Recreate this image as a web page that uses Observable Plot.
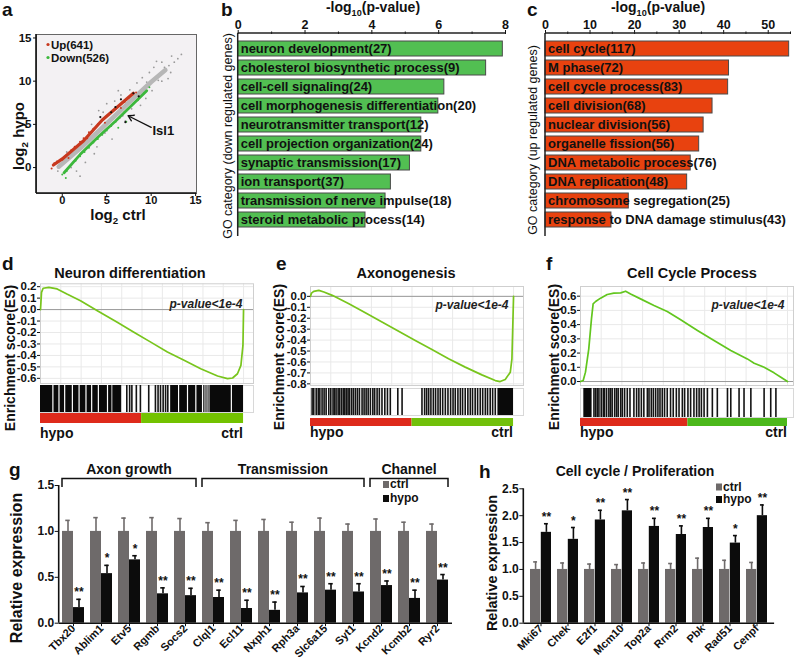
<!DOCTYPE html>
<html>
<head>
<meta charset="utf-8">
<script src="https://cdn.jsdelivr.net/npm/d3@7"></script>
<script src="https://cdn.jsdelivr.net/npm/@observablehq/plot@0.6"></script>
<style>
html,body{margin:0;padding:0;background:#fff;}
#fig{position:relative;width:798px;height:660px;overflow:hidden;background:#fff;}
</style>
</head>
<body>
<div id="fig"></div>
<script>
// ======================= DATA =======================
// (a) scatter: log2 ctrl vs log2 hypo
const grayBand = [[-0.4,0.1],[2,2.2],[5,5.1],[8,8.0],[10,9.9],[11.6,11.3]];
const upBand = [[-1.0,0.3],[0,1.0],[2.4,3.1],[4.5,5.5],[6.2,7.0],[8.0,8.6]];
const downBand = [[0.2,-0.6],[2,1.5],[4,3.5],[6,5.4],[8,7.4],[9.5,8.9]];
const grayPts = [[9.0,10.4],[10.3,11.6],[11.2,12.2],[12.6,12.2],[13.4,13.1],[7.6,9.0],[8.4,9.8],[6.6,8.4],[5.9,7.7],[4.6,6.4],[3.3,5.0],[10.1,8.9],[11.2,10.0],[12.2,11.0],[8.8,7.2],[7.1,5.4],[9.4,8.0],[11.9,10.3],[2.6,0.6],[1.6,-0.4],[5.6,3.3],[4.1,6.6],[6.3,8.9],[10.6,12.3],[12.3,12.9],[8.1,6.1],[3.6,1.6],[9.8,11.0],[11.5,11.6],[12.0,11.8],[10.8,10.1],[9.5,9.9],[7.8,6.8],[6.8,6.0],[4.8,4.0],[0.5,1.8],[-0.5,-0.4],[1.0,0.0],[13.0,12.6],[2.0,-1.0],[5.0,7.4],[3.9,2.4]];
const upPts = [[-1.2,-0.1],[-0.6,0.7],[0.4,1.3],[1.4,2.4],[2.4,3.4],[3.5,4.5],[4.5,5.5],[5.5,6.4],[6.5,7.2],[7.5,8.1],[8.3,8.7],[0,0.9],[1,2.0],[2,3.0],[3,4.1],[4,5.0],[5,6.0],[6,6.8],[7,7.6],[-0.9,0.5],[0.7,1.1],[2.8,3.4],[4.8,5.2],[6.6,6.9]];
const downPts = [[0,-0.8],[0.5,-0.4],[1,0.3],[1.5,0.8],[2,1.3],[2.5,1.8],[3,2.3],[3.5,2.9],[4,3.3],[4.5,3.8],[5,4.3],[5.5,4.8],[6,5.3],[6.5,5.8],[7,6.4],[7.5,6.9],[8,7.4],[8.5,7.8],[9.2,8.6],[9.8,9.3],[0.4,-1.2],[6.3,4.6],[7.2,5.3]];
const blackPts = [[5.98,7.0],[7.1,5.25],[8.6,8.24],[4.28,5.84],[5.5,6.4],[8.0,8.6],[6.6,7.9]];
const isl1 = {gene:"Isl1", ctrl:7.4, hypo:6.0};
const legendA = ["Up(641)","Down(526)"];

// (b) GO down-regulated
const downTerms = ["neuron development(27)","cholesterol biosynthetic process(9)","cell-cell signaling(24)","cell morphogenesis differentiation(20)","neurotransmitter transport(12)","cell projection organization(24)","synaptic transmission(17)","ion transport(37)","transmission of nerve impulse(18)","steroid metabolic process(14)"];
const downLogP = [7.92,7.42,6.17,5.99,5.48,5.48,5.14,4.57,4.41,3.81];
// (c) GO up-regulated
const upTerms = ["cell cycle(117)","M phase(72)","cell cycle process(83)","cell division(68)","nuclear division(56)","organelle fission(56)","DNA metabolic process(76)","DNA replication(48)","chromosome segregation(25)","response to DNA damage stimulus(43)"];
const upLogP = [54.7,41.2,41.0,37.5,35.5,34.5,32.6,31.8,18.7,14.8];

// (d) GSEA Neuron differentiation: [rank fraction, ES]
const dCurve = [[0,0],[0.005,0.15],[0.013,0.186],[0.041,0.194],[0.082,0.18],[0.13,0.136],[0.197,0.078],[0.28,-0.01],[0.378,-0.11],[0.46,-0.197],[0.543,-0.284],[0.625,-0.371],[0.707,-0.443],[0.789,-0.516],[0.872,-0.58],[0.921,-0.603],[0.946,-0.597],[0.97,-0.56],[0.987,-0.487],[0.997,-0.313],[1,0]];
const dBlocks = [[0,0.40],[0.641,1.0]];
const dHits = [0.425,0.439,0.45,0.472,0.492,0.533,0.566,0.579,0.591,0.604,0.616,0.627];
const dGray = [0.351,0.808,0.815,0.822,0.83];
const dGaps = [0.061,0.091,0.119,0.157,0.19,0.224,0.252,0.285,0.33,0.68,0.724,0.765,0.798,0.94];
const dSplit = 0.498;
// (e) GSEA Axonogenesis
const eCurve = [[0,0],[0.005,0.03],[0.016,0.046],[0.041,0.055],[0.066,0.04],[0.107,0.009],[0.189,-0.067],[0.27,-0.15],[0.352,-0.235],[0.434,-0.32],[0.516,-0.403],[0.598,-0.485],[0.68,-0.571],[0.762,-0.647],[0.844,-0.718],[0.91,-0.77],[0.934,-0.779],[0.959,-0.76],[0.984,-0.693],[0.992,-0.571],[0.995,-0.357],[1,0]];
const eBlocks = [[0.923,1.0]];
const eHits = [0.008,0.016,0.028,0.038,0.046,0.057,0.067,0.077,0.090,0.100,0.111,0.118,0.126,0.136,0.143,0.152,0.161,0.169,0.177,0.185,0.192,0.202,0.211,0.221,0.231,0.241,0.254,0.264,0.274,0.284,0.295,0.307,0.316,0.328,0.339,0.352,0.366,0.379,0.393,0.430,0.451,0.549,0.562,0.572,0.582,0.593,0.605,0.616,0.628,0.639,0.651,0.664,0.677,0.690,0.702,0.713,0.726,0.738,0.749,0.762,0.775,0.787,0.798,0.811,0.823,0.836,0.848,0.861,0.872,0.885,0.897,0.910];
const eSplit = 0.5;
// (f) GSEA Cell Cycle Process
const fCurve = [[0,0],[0.013,0.007],[0.024,0.066],[0.04,0.23],[0.053,0.44],[0.061,0.546],[0.073,0.5625],[0.097,0.586],[0.129,0.612],[0.161,0.621],[0.194,0.623],[0.218,0.635],[0.242,0.616],[0.29,0.581],[0.355,0.534],[0.419,0.492],[0.484,0.434],[0.565,0.359],[0.645,0.288],[0.726,0.218],[0.806,0.159],[0.839,0.129],[0.887,0.1],[0.935,0.061],[0.968,0.03],[1,0]];
const fBlocks = [[0.016,0.056]];
const fHits = [0.065,0.073,0.081,0.089,0.100,0.110,0.116,0.126,0.137,0.145,0.153,0.165,0.174,0.182,0.194,0.202,0.213,0.226,0.239,0.258,0.271,0.282,0.294,0.306,0.323,0.331,0.342,0.352,0.363,0.374,0.384,0.395,0.406,0.419,0.435,0.448,0.463,0.476,0.492,0.503,0.519,0.532,0.548,0.561,0.573,0.584,0.597,0.613,0.637,0.661,0.710,0.726,0.766,0.790,0.823,0.887,0.919,0.944];
const fSplit = 0.519;

// (g) qPCR neural genes
const gGenes = ["Tbx20","Ablim1","Etv5","Rgmb","Socs2","Clql1","Ecl11","Nxph1","Rph3a","Slc6a15","Syt1","Kcnd2","Kcmb2","Ryr2"];
const gCtrl = [1,1,1,1,1,1,1,1,1,1,1,1,1,1];
const gCtrlErr = [0.12,0.15,0.145,0.15,0.14,0.095,0.12,0.13,0.10,0.145,0.08,0.135,0.10,0.08];
const gHypo = [0.17,0.54,0.69,0.32,0.30,0.28,0.16,0.14,0.33,0.36,0.34,0.41,0.27,0.47];
const gHypoErr = [0.09,0.09,0.045,0.065,0.08,0.08,0.09,0.09,0.07,0.07,0.09,0.05,0.09,0.06];
const gSig = ["**","*","*","**","**","**","**","**","**","**","**","**","**","**"];
const gGroups = [{name:"Axon growth",from:"Tbx20",to:"Socs2"},{name:"Transmission",from:"Clql1",to:"Syt1"},{name:"Channel",from:"Kcnd2",to:"Ryr2"}];
// (h) qPCR cell cycle genes
const hGenes = ["Mki67","Chek","E2f1","Mcm10","Top2a","Rrm2","Pbk","Rad51","Cenpf"];
const hCtrl = [1,1,1,1,1,1,1,1,1];
const hCtrlErr = [0.14,0.12,0.10,0.09,0.12,0.11,0.21,0.17,0.13];
const hHypo = [1.69,1.56,1.92,2.09,1.80,1.65,1.78,1.49,2.0];
const hHypoErr = [0.16,0.22,0.18,0.21,0.15,0.16,0.17,0.14,0.2];
const hSig = ["**","*","**","**","**","**","**","*","**"];
const seriesNames = ["ctrl","hypo"];

// ======================= HELPERS =======================
const FONT = "'Liberation Sans', Arial, Helvetica, sans-serif";
const fig = document.getElementById("fig");
function place(el, left, top) {
  el.style.position = "absolute"; el.style.left = left + "px"; el.style.top = top + "px";
  fig.appendChild(el); return el;
}
function st(extra) {
  return Object.assign({fontFamily: FONT, fontSize: "12px", fontWeight: "bold", color: "#111",
    background: "transparent", overflow: "visible"}, extra || {});
}
function edge(side, stroke = "#111", sw = 1.5) {
  return (index, scales, values, d) => {
    const L = d.marginLeft, R = d.width - d.marginRight, T = d.marginTop, B = d.height - d.marginBottom;
    const l = d3.create("svg:line").attr("stroke", stroke).attr("stroke-width", sw);
    if (side === "left") l.attr("x1", L).attr("x2", L).attr("y1", T).attr("y2", B);
    if (side === "bottom") l.attr("x1", L).attr("x2", R).attr("y1", B).attr("y2", B);
    if (side === "top") l.attr("x1", L).attr("x2", R).attr("y1", T).attr("y2", T);
    return l.node();
  };
}
const px = d => d[0], py = d => d[1];

// ======================= (a) =======================
const aChart = Plot.plot({
  width: 215, height: 200, marginLeft: 36, marginRight: 19, marginTop: 9, marginBottom: 32,
  style: st(),
  x: {domain: [-2.9, 15.1], label: null},
  y: {domain: [-3, 15.4], label: null},
  marks: [
    Plot.frame({fill: "#f3f1f3", stroke: "#666"}),
    Plot.dot(grayPts, {x: px, y: py, r: 0.9, fill: "#9a9a9a"}),
    Plot.line(grayBand, {x: px, y: py, stroke: "#b7b7b7", strokeWidth: 4.5, strokeLinecap: "round"}),
    Plot.line(upBand, {x: px, y: py, stroke: "#c8391f", strokeWidth: 3.2, strokeLinecap: "round"}),
    Plot.line(downBand, {x: px, y: py, stroke: "#3cb83c", strokeWidth: 2.8, strokeLinecap: "round"}),
    Plot.dot(upPts, {x: px, y: py, r: 1, fill: "#c8391f"}),
    Plot.dot(downPts, {x: px, y: py, r: 1, fill: "#3cb83c"}),
    Plot.dot(blackPts, {x: px, y: py, r: 1.1, fill: "#111"}),
    Plot.arrow([isl1], {x1: d => d.ctrl + 2.6, y1: d => d.hypo - 1.35, x2: "ctrl", y2: "hypo", headLength: 7, strokeWidth: 1.3, stroke: "#111"}),
    Plot.text([isl1], {x: d => d.ctrl + 2.75, y: d => d.hypo - 1.75, text: "gene", textAnchor: "start", fontSize: 13, fill: "#111"}),
    Plot.axisX({ticks: [0, 5, 10, 15], tickSize: 3, tickPadding: 0, fontSize: 11, label: null}),
    Plot.axisY({ticks: [0, 5, 10, 15], tickSize: 3, tickPadding: 2, fontSize: 11.5, label: null}),
    edge("left", "#111", 1.6), edge("bottom", "#111", 1.6)
  ]
});
place(aChart, 0, 25);

// ======================= (b), (c) =======================
function goPanel(terms, vals, {width, ml, mr, xmax, major, minor, fill}) {
  const data = terms.map((t, i) => ({term: t, p: vals[i]}));
  return Plot.plot({
    width, height: 240, marginLeft: ml, marginRight: mr, marginTop: 33, marginBottom: 4,
    style: st(),
    x: {domain: [0, xmax], label: null},
    y: {domain: terms, axis: null, paddingInner: 0.2, paddingOuter: 0.325},
    marks: [
      Plot.barX(data, {x: "p", y: "term", fill, stroke: "#4a4a4a", strokeWidth: 1}),
      Plot.text(data, {x: 0, y: "term", text: "term", textAnchor: "start", dx: 2.5, fontSize: 13, fill: "#111"}),
      Plot.axisX({anchor: "top", ticks: major, tickSize: 4, tickPadding: 1, fontSize: 12.5, label: null}),
      Plot.axisX({anchor: "top", ticks: minor, tickSize: 2.5, tickFormat: () => "", label: null}),
      edge("top", "#222", 1.5), edge("left", "#222", 1.5)
    ]
  });
}
place(goPanel(downTerms, downLogP, {width: 300, ml: 22.7, mr: 10, xmax: 8, major: [0, 2, 4, 6, 8], minor: [1, 3, 5, 7], fill: "#52bf52"}), 215, 0);
place(goPanel(upTerms, upLogP, {width: 283, ml: 30, mr: 8, xmax: 55, major: [0, 10, 20, 30, 40, 50], minor: [5, 15, 25, 35, 45, 55], fill: "#e8420f"}), 515, 0);

// ======================= (d), (e), (f) GSEA =======================
const xgrid = [0.1, 0.2, 0.3, 0.4, 0.5, 0.6, 0.7, 0.8, 0.9, 1.0];
function gsea(c) {
  const X = {domain: [0, c.xmax], axis: null};
  const es = Plot.plot({
    width: c.width, height: c.esH, marginLeft: c.ml, marginRight: c.mr, marginTop: c.mt, marginBottom: c.mb,
    style: st(), x: X, y: {domain: c.ydom, label: null},
    marks: [
      Plot.gridX(xgrid, {stroke: "#e9e9e9", strokeOpacity: 1}),
      Plot.gridY(c.yticks, {stroke: "#e9e9e9", strokeOpacity: 1}),
      Plot.ruleY([0], {stroke: "#9a9a9a"}),
      Plot.frame({stroke: "#cfcfcf"}),
      Plot.line(c.curve, {x: px, y: py, stroke: c.lineColor, strokeWidth: 1.7}),
      Plot.axisY({ticks: c.yticks, tickFormat: d => d.toFixed(1), tickSize: 3, tickPadding: 1, fontSize: 11.5, label: null}),
      Plot.text(["p-value<1e-4"], {frameAnchor: "top-right", textAnchor: "end", lineAnchor: "bottom", dx: c.pdx, dy: c.pdy, fontStyle: "italic", fontSize: 12, fill: "#222"})
    ]
  });
  place(es, c.left, c.esTop);
  const hits = Plot.plot({
    width: c.width, height: c.hitsH, marginLeft: c.ml, marginRight: c.mr, marginTop: 0, marginBottom: 0,
    style: st(), x: X,
    marks: [
      Plot.frame({stroke: "#d8d8d8"}),
      Plot.rect(c.blocks, {x1: px, x2: py, fill: "#0a0a0a"}),
      Plot.ruleX(c.hits, {stroke: "#141414", strokeWidth: 1.6}),
      Plot.ruleX(c.grays, {stroke: "#8a8a8a", strokeWidth: 1.6}),
      Plot.ruleX(c.gaps, {stroke: "#ffffff", strokeWidth: 1.2})
    ]
  });
  place(hits, c.left, c.hitsTop);
  const bar = Plot.plot({
    width: c.width, height: c.barH, marginLeft: c.ml, marginRight: c.mr, marginTop: 0, marginBottom: 0,
    style: st(), x: X,
    marks: [
      Plot.rect([{from: 0, to: c.split}], {x1: "from", x2: "to", fill: "#de2a1b"}),
      Plot.rect([{from: c.split, to: 1}], {x1: "from", x2: "to", fill: c.green})
    ]
  });
  place(bar, c.left, c.barTop);
}
gsea({left: 0, width: 265, ml: 40, mr: 12, esTop: 270, esH: 118, mt: 13.3, mb: 5, xmax: 1.049,
  ydom: [-0.645, 0.225], yticks: [0.2, 0.1, 0, -0.1, -0.2, -0.3, -0.4, -0.5, -0.6], curve: dCurve, lineColor: "#78c51c",
  pdx: -11, pdy: 23.7, blocks: dBlocks, hits: dHits, grays: dGray, gaps: dGaps,
  hitsTop: 385, hitsH: 27, barTop: 413, barH: 10, split: dSplit, green: "#73c200"});
gsea({left: 265, width: 265, ml: 45, mr: 7, esTop: 270, esH: 120, mt: 16, mb: 5, xmax: 1.049,
  ydom: [-0.815, 0.09], yticks: [0, -0.1, -0.2, -0.3, -0.4, -0.5, -0.6, -0.7, -0.8], curve: eCurve, lineColor: "#78c51c",
  pdx: -15, pdy: 22, blocks: eBlocks, hits: eHits, grays: [], gaps: [],
  hitsTop: 388, hitsH: 27, barTop: 418, barH: 8, split: eSplit, green: "#71c00a"});
gsea({left: 530, width: 268, ml: 50, mr: 5, esTop: 270, esH: 120, mt: 16, mb: 5, xmax: 1.029,
  ydom: [-0.028, 0.668], yticks: [0, 0.1, 0.2, 0.3, 0.4, 0.5, 0.6], curve: fCurve, lineColor: "#62c61e",
  pdx: -9, pdy: 22, blocks: fBlocks, hits: fHits, grays: [], gaps: [],
  hitsTop: 388, hitsH: 29, barTop: 418, barH: 8, split: fSplit, green: "#4cb81b"});

// ======================= (g), (h) bar charts =======================
const CTRL = "#6e6a6a", HYPO = "#0c0c0c";
function barPanel(c) {
  const data = c.genes.map((g, i) => ({gene: g, ctrl: c.ctrl[i], ce: c.ctrlErr[i], hypo: c.hypo[i], he: c.hypoErr[i], sig: c.sig[i]}));
  const n = c.genes.length;
  const step = (c.width - c.ml - c.mr) / (n - c.pi + 2 * c.po);
  const bw = step * (1 - c.pi), half = bw / 2, cap = 4.5;
  return Plot.plot({
    width: c.width, height: 205, marginLeft: c.ml, marginRight: c.mr, marginTop: c.mt, marginBottom: 37.3,
    style: st(),
    x: {domain: c.genes, paddingInner: c.pi, paddingOuter: c.po, label: null},
    y: {domain: [0, c.ymax], label: null},
    marks: [
      Plot.ruleX(data, {x: "gene", y1: "ctrl", y2: d => d.ctrl + d.ce, dx: -half / 2, stroke: CTRL, strokeWidth: 1.6}),
      Plot.tickY(data, {x: "gene", y: d => d.ctrl + d.ce, insetLeft: half / 2 - cap / 2, insetRight: bw - half / 2 - cap / 2, stroke: CTRL, strokeWidth: 1.6}),
      Plot.ruleX(data, {x: "gene", y1: "hypo", y2: d => d.hypo + d.he, dx: half / 2, stroke: HYPO, strokeWidth: 1.6}),
      Plot.tickY(data, {x: "gene", y: d => d.hypo + d.he, insetLeft: half + half / 2 - cap / 2, insetRight: half / 2 - cap / 2, stroke: HYPO, strokeWidth: 1.6}),
      Plot.barY(data, {x: "gene", y: "ctrl", fill: CTRL, insetRight: half}),
      Plot.barY(data, {x: "gene", y: "hypo", fill: HYPO, insetLeft: half}),
      Plot.text(data, {x: "gene", y: d => d.hypo + d.he, text: "sig", dx: half / 2, dy: -3, lineAnchor: "bottom", fontSize: 12, fill: "#111"}),
      Plot.axisX({tickRotate: -45, tickSize: 3.5, tickPadding: 0, fontSize: 11, label: null}),
      Plot.axisY({ticks: c.yticks, tickFormat: d => d.toFixed(1), tickSize: 4, tickPadding: 1, fontSize: 12, label: null}),
      Plot.ruleY([0], {stroke: "#111", strokeWidth: 1.6}),
      edge("left", "#111", 1.6)
    ]
  });
}
const gChart = barPanel({genes: gGenes, ctrl: gCtrl, ctrlErr: gCtrlErr, hypo: gHypo, hypoErr: gHypoErr, sig: gSig,
  width: 455, ml: 58.7, mr: 3, mt: 30, ymax: 1.5, yticks: [0, 0.5, 1.0, 1.5], pi: 0.217, po: 0.107});
place(gChart, 0, 455);
const hChart = barPanel({genes: hGenes, ctrl: hCtrl, ctrlErr: hCtrlErr, hypo: hHypo, hypoErr: hHypoErr, sig: hSig,
  width: 338, ml: 63.3, mr: 23.9, mt: 33.3, ymax: 2.5, yticks: [0, 0.5, 1.0, 1.5, 2.0, 2.5], pi: 0.223, po: 0.122});
place(hChart, 460, 455);

// ======================= overlay texts =======================
const ov = d3.select(fig).append("svg").attr("width", 798).attr("height", 660)
  .style("position", "absolute").style("left", "0px").style("top", "0px")
  .style("font-family", FONT).style("overflow", "visible");
function T(x, y, str, o = {}) {
  const t = ov.append("text").attr("x", x).attr("y", y)
    .attr("font-size", o.size || 14).attr("font-weight", o.weight || "bold")
    .attr("text-anchor", o.anchor || "start").attr("fill", o.fill || "#111")
    .attr("font-style", o.style || "normal");
  if (o.rotate) t.attr("transform", `rotate(${o.rotate},${x},${y})`);
  if (Array.isArray(str)) {
    str.forEach(s => {
      const sp = t.append("tspan").text(s.t);
      if (s.sub) sp.attr("font-size", (o.size || 14) * 0.65).attr("dy", 3.5);
      if (s.after) sp.attr("dy", -3.5);
    });
  } else t.text(str);
  return t;
}
// panel letters
[["a", 2, 16], ["b", 221, 16], ["c", 527, 16], ["d", 2, 270], ["e", 276, 270], ["f", 546, 270], ["g", 9, 476], ["h", 479, 478]]
  .forEach(([s, x, y]) => T(x, y, s, {size: 19}));
// (a)
T(24, 136, [{t: "log"}, {t: "2", sub: true}, {t: " hypo", after: true}], {size: 15, anchor: "middle", rotate: -90});
T(118, 220, [{t: "log"}, {t: "2", sub: true}, {t: " ctrl", after: true}], {size: 15, anchor: "middle"});
ov.append("circle").attr("cx", 48).attr("cy", 44.5).attr("r", 1.6).attr("fill", "#c8391f");
ov.append("circle").attr("cx", 48).attr("cy", 57.5).attr("r", 1.6).attr("fill", "#3cb83c");
T(51, 49, legendA[0], {size: 11.5});
T(51, 62, legendA[1], {size: 11.5});
// (b),(c)
T(373, 12, [{t: "-log"}, {t: "10", sub: true}, {t: "(p-value)", after: true}], {size: 14, anchor: "middle"});
T(658, 12, [{t: "-log"}, {t: "10", sub: true}, {t: "(p-value)", after: true}], {size: 14, anchor: "middle"});
T(232, 136, "GO category (down regulated genes)", {size: 12.5, weight: "normal", anchor: "middle", rotate: -90});
T(537, 140, "GO category (up regulated genes)", {size: 12.5, weight: "normal", anchor: "middle", rotate: -90});
// (d),(e),(f)
T(130, 278, "Neuron differentiation", {size: 14.5, anchor: "middle"});
T(406, 278, "Axonogenesis", {size: 14.5, anchor: "middle"});
T(692, 278, "Cell Cycle Process", {size: 14.5, anchor: "middle"});
[[15, 358], [284, 357], [559, 357]].forEach(([x, y]) => T(x, y, "Enrichment score(ES)", {size: 14, anchor: "middle", rotate: -90}));
[[40, 243, 438], [310, 513, 437], [580, 787, 437]].forEach(([a, b, y]) => {
  T(a, y, seriesNames[1], {size: 14});
  T(b, y, seriesNames[0], {size: 14, anchor: "end"});
});
// (g)
T(22, 568, "Relative expression", {size: 16, anchor: "middle", rotate: -90});
const gx = gChart.scale("x");
gGroups.forEach(g => {
  const x1 = gx.apply(g.from), x2 = gx.apply(g.to) + gx.bandwidth;
  ov.append("path").attr("d", `M${x1},487V478.5H${x2}V487`).attr("fill", "none").attr("stroke", "#111").attr("stroke-width", 1.5);
  T((x1 + x2) / 2, 474, g.name, {size: 14, anchor: "middle"});
});
ov.append("rect").attr("x", 383).attr("y", 481).attr("width", 6).attr("height", 7).attr("fill", CTRL);
ov.append("rect").attr("x", 383).attr("y", 495).attr("width", 6).attr("height", 7).attr("fill", HYPO);
T(390, 488, seriesNames[0], {size: 12});
T(390, 502, seriesNames[1], {size: 12});
// (h)
T(635, 476, "Cell cycle / Proliferation", {size: 14, anchor: "middle"});
T(497, 563, "Relative expression", {size: 14.5, anchor: "middle", rotate: -90});
ov.append("rect").attr("x", 716).attr("y", 483.5).attr("width", 6).attr("height", 7).attr("fill", CTRL);
ov.append("rect").attr("x", 716).attr("y", 496).attr("width", 6).attr("height", 7).attr("fill", HYPO);
T(723, 490.5, seriesNames[0], {size: 12});
T(723, 503, seriesNames[1], {size: 12});
</script>
</body>
</html>
